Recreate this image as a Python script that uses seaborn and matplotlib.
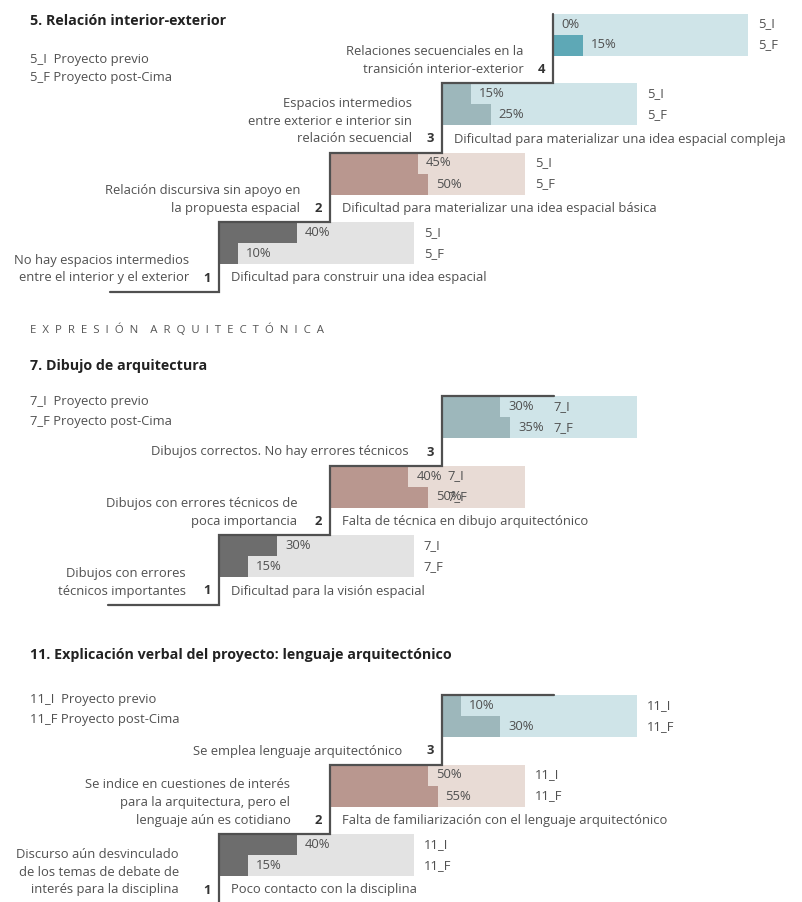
import numpy as np
import pandas as pd
import seaborn as sns
import matplotlib.pyplot as plt

sns.set_theme(style="white")
plt.rcParams["font.family"] = ["Open Sans", "DejaVu Sans"]

# ---- data -------------------------------------------------------------
codes = ["5", "7", "11"]
titles = ["5. Relación interior-exterior",
          "7. Dibujo de arquitectura",
          "11. Explicación verbal del proyecto: lenguaje arquitectónico"]

vals_5_I = [40, 45, 15, 0]
vals_5_F = [10, 50, 25, 15]
vals_7_I = [30, 40, 30]
vals_7_F = [15, 50, 35]
vals_11_I = [40, 50, 10]
vals_11_F = [15, 55, 30]

criteria_5 = ["No hay espacios intermedios\nentre el interior y el exterior",
              "Relación discursiva sin apoyo en\nla propuesta espacial",
              "Espacios intermedios\nentre exterior e interior sin\nrelación secuencial",
              "Relaciones secuenciales en la\ntransición interior-exterior"]
criteria_7 = ["Dibujos con errores\ntécnicos importantes",
              "Dibujos con errores técnicos de\npoca importancia",
              "Dibujos correctos. No hay errores técnicos"]
criteria_11 = ["Discurso aún desvinculado\nde los temas de debate de\ninterés para la disciplina",
               "Se indice en cuestiones de interés\npara la arquitectura, pero el\nlenguaje aún es cotidiano",
               "Se emplea lenguaje arquitectónico"]

problems_5 = ["Dificultad para construir una idea espacial",
              "Dificultad para materializar una idea espacial básica",
              "Dificultad para materializar una idea espacial compleja",
              ""]
problems_7 = ["Dificultad para la visión espacial",
              "Falta de técnica en dibujo arquitectónico",
              ""]
problems_11 = ["Poco contacto con la disciplina",
               "Falta de familiarización con el lenguaje arquitectónico",
               ""]

# ---- style / layout ---------------------------------------------------
W, H = 803, 902
dark = ["#6d6d6d", "#b9978f", "#9db7bb", "#5ea8b6"]
light = ["#e3e3e3", "#e8dbd5", "#cfe4e8", "#cfe4e8"]
txt = "#505050"
line_c = "#505050"
fs = 9.35

BAR_W, BAR_H = 195, 42
STEP_X, STEP_Y = 111.5, 69.5
X0 = 219

sections = [
    dict(code="5", title=titles[0], I=vals_5_I, F=vals_5_F, crit=criteria_5,
         prob=problems_5, top1=222, title_y=21, leg_y=59, gap=30,
         lab_pos=[105, 105, 105, 105], tail=0, start=110),
    dict(code="7", title=titles[1], I=vals_7_I, F=vals_7_F, crit=criteria_7,
         prob=problems_7, top1=535, title_y=366, leg_y=402, gap=33,
         lab_pos=[105, 60, 57], tail=112, start=108),
    dict(code="11", title=titles[2], I=vals_11_I, F=vals_11_F, crit=criteria_11,
         prob=problems_11, top1=834, title_y=655, leg_y=700, gap=40,
         lab_pos=[105, 105, 105], tail=112, start=108),
]

fig = plt.figure(figsize=(W / 100, H / 100), dpi=100)
fig.patch.set_facecolor("white")

ov = fig.add_axes([0, 0, 1, 1])
ov.set_xlim(0, W)
ov.set_ylim(H, 0)
ov.axis("off")
ov.set_zorder(5)


def px_axes(x, top, w, h):
    return fig.add_axes([x / W, 1 - (top + h) / H, w / W, h / H])


ov.text(30, 330, "  ".join("EXPRESIÓN") + "    " + "  ".join("ARQUITECTÓNICA"),
        fontsize=8.2, color="#555555", va="center", ha="left")

for s in sections:
    code = s["code"]
    n = len(s["I"])
    ov.text(30, s["title_y"], s["title"], fontsize=10.3, fontweight="bold",
            color="#222222", va="center")
    ov.text(30, s["leg_y"], f"{code}_I  Proyecto previo", fontsize=fs,
            color=txt, va="center")
    ov.text(30, s["leg_y"] + 19, f"{code}_F Proyecto post-Cima", fontsize=fs,
            color=txt, va="center")

    xs = [X0 + STEP_X * k for k in range(n)]
    tops = [s["top1"] - STEP_Y * k for k in range(n)]

    for k in range(n):
        rows = [f"{code}_I", f"{code}_F"]
        vals = [s["I"][k], s["F"][k]]
        ax = px_axes(xs[k], tops[k], BAR_W, BAR_H)
        sns.barplot(x=[100, 100], y=rows, color=light[k], saturation=1,
                    width=1, linewidth=0, errorbar=None, orient="h", ax=ax)
        sns.barplot(x=vals, y=rows, color=dark[k], saturation=1,
                    width=1, linewidth=0, errorbar=None, orient="h", ax=ax)
        ax.set_xlim(0, 100)
        ax.set_ylim(1.5, -0.5)
        ax.axis("off")
        for i, v in enumerate(vals):
            ax.text(v + 4, i, f"{v}%", fontsize=fs, color=txt, va="center")
            ax.text(s["lab_pos"][k], i, rows[i], fontsize=fs, color=txt,
                    va="center")

        desc_y = tops[k] + BAR_H + 14
        ov.text(xs[k] - 12, desc_y, str(k + 1), fontsize=fs, fontweight="bold",
                color="#333333", va="center", ha="center")
        lines = s["crit"][k].split("\n")
        for j, ln in enumerate(lines):
            ov.text(xs[k] - s["gap"], desc_y - 17.8 * (len(lines) - 1 - j), ln,
                    fontsize=fs, color=txt, va="center", ha="right")
        if s["prob"][k]:
            ov.text(xs[k] + 12, desc_y, s["prob"][k], fontsize=fs, color=txt,
                    va="center", ha="left")

    # staircase outline
    px = [s["start"], xs[0]]
    py = [tops[0] + STEP_Y, tops[0] + STEP_Y]
    for k in range(n):
        px += [xs[k], xs[k + 1] if k + 1 < n else xs[k] + s["tail"]]
        py += [tops[k], tops[k]]
    ov.plot(px, py, color=line_c, lw=1.6, solid_joinstyle="miter")

fig.savefig("out.png", dpi=100, facecolor="white")
